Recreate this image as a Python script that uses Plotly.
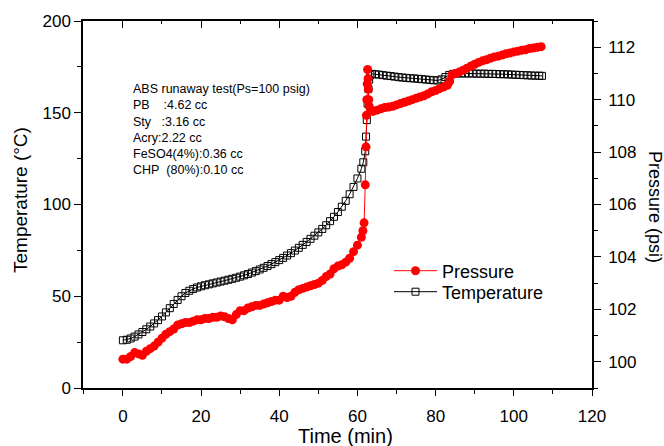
import plotly.graph_objects as go

# ---- Data ----
temp_time = [0, 1, 2, 3, 4, 5, 6, 7, 8, 9, 10, 11, 12, 13, 14, 15, 16, 17, 18, 19,
             20, 21, 22, 23, 24, 25, 26, 27, 28, 29, 30, 31, 32, 33, 34, 35, 36, 37, 38, 39,
             40, 41, 42, 43, 44, 45, 46, 47, 48, 49, 50, 51, 52, 53, 54, 55, 56, 57, 58, 59,
             60, 61, 61.5, 62, 62.2, 62.4, 62.6, 62.8, 63, 63.3, 63.7,
             64.5, 65.5, 66.5, 67.5, 68.5, 69.5, 70.5, 71.5, 72.5, 73.5, 74.5, 75.5, 76.5,
             77.5, 78.5, 79.5, 80.5, 81.5, 82.5, 83.5, 84.5, 85.5, 86.5, 87.5, 88.5, 89.5,
             90.5, 91.5, 92.5, 93.5, 94.5, 95.5, 96.5, 97.5, 98.5, 99.5, 100.5, 101.5, 102.5,
             103.5, 104.5, 105.5, 106.5, 107.2]
temperature = [26, 26.3, 27, 28, 29.2, 30.5, 32, 33.5, 35.2, 37, 39, 41.2, 43.5, 45.8, 48, 50, 51.8, 53, 54, 54.8,
               55.4, 56, 56.5, 57, 57.5, 58, 58.5, 59, 59.5, 60.1, 60.7, 61.4, 62.1, 62.9, 63.7, 64.6, 65.5, 66.5, 67.5, 68.6,
               69.7, 70.9, 72.2, 73.5, 74.9, 76.4, 78.0, 79.6, 81.3, 83.0, 84.8, 86.7, 88.7, 90.9, 93.3, 95.9, 98.8, 102.0, 105.6, 109.6,
               114.2, 119.5, 123, 129, 137, 146, 155, 163, 168, 170.5, 171.2,
               171, 170.8, 170.5, 170.2, 170, 169.7, 169.4, 169.2, 169, 168.8, 168.7, 168.5, 168.3,
               168.1, 167.9, 167.7, 167.6, 168.2, 169.5, 170.6, 171.2, 171.4, 171.4, 171.4, 171.4, 171.4,
               171.3, 171.3, 171.3, 171.2, 171.2, 171.1, 171, 171, 170.9, 170.8, 170.7, 170.6, 170.5,
               170.4, 170.3, 170.2, 170.2, 170.1]

pres_time = [0, 1, 2, 3, 4, 5, 6, 7, 8, 9, 10, 11, 12, 13, 14, 15, 16, 17, 18, 19,
             20, 21, 22, 23, 24, 25, 26, 27, 28, 29, 30, 31, 32, 33, 34, 35, 36, 37, 38, 39,
             40, 41, 42, 43, 44, 45, 46, 47, 48, 49, 50, 51, 52, 53, 54, 55, 56, 57, 58, 59,
             60, 61, 61.4, 61.7, 62.0, 62.2, 62.3, 62.4, 62.5, 62.6, 62.7, 62.8, 62.9, 63.0, 63.5,
             64, 65, 66, 67, 68, 69, 70, 71, 72, 73, 74, 75, 76, 77, 78, 79, 80, 81, 82, 83,
             83.6, 84.2, 85, 86, 87, 88, 89, 90, 91, 92, 93, 94, 95, 96, 97, 98, 99, 100,
             101, 102, 103, 104, 105, 106, 107]
pressure = [100.1, 100.1, 100.2, 100.35, 100.3, 100.25, 100.4, 100.5, 100.6, 100.75, 100.9, 101.05, 101.15, 101.25, 101.4, 101.45, 101.5, 101.5, 101.55, 101.6,
            101.6, 101.65, 101.65, 101.7, 101.7, 101.75, 101.72, 101.65, 101.6, 101.8, 101.95, 101.95, 102.05, 102.1, 102.15, 102.15, 102.2, 102.25, 102.3, 102.35,
            102.35, 102.5, 102.45, 102.5, 102.65, 102.75, 102.8, 102.85, 102.9, 102.95, 103.0, 103.1, 103.25, 103.35, 103.55, 103.65, 103.7, 103.8, 103.95, 104.2,
            104.45, 104.75, 105.0, 105.3, 106.75, 108.2, 109.4, 110.0, 110.6, 111.15, 110.8, 110.4, 110.0, 109.75, 109.6,
            109.55, 109.6, 109.65, 109.7, 109.72, 109.75, 109.8, 109.85, 109.9, 109.95, 110.0, 110.05, 110.1, 110.15, 110.22, 110.3, 110.35, 110.42, 110.48, 110.55,
            110.7, 110.95, 111.0, 111.05, 111.12, 111.2, 111.28, 111.35, 111.42, 111.48, 111.52, 111.58, 111.63, 111.66, 111.7, 111.75, 111.78, 111.82,
            111.85, 111.88, 111.9, 111.95, 111.97, 112.0, 112.02]

info_lines = ["ABS runaway test(Ps=100 psig)",
              "PB\u00a0\u00a0\u00a0\u00a0:4.62 cc",
              "Sty\u00a0\u00a0\u00a0:3.16 cc",
              "Acry:2.22 cc",
              "FeSO4(4%):0.36 cc",
              "CHP\u00a0\u00a0(80%):0.10 cc"]

FONT = "Arial, 'Liberation Sans', sans-serif"
RED = "rgb(255,0,0)"

L, R, T, B = 83, 72, 21, 58
W, H = 664, 446
PW, PH = W - L - R, H - T - B


def px(xp):
    return (xp - L) / PW


def py(yp):
    return (H - B - yp) / PH


fig = go.Figure()
fig.add_trace(go.Scatter(
    x=pres_time, y=pressure, name="Pressure", yaxis="y2", mode="lines+markers",
    line=dict(color=RED, width=1), legend="legend2",
    marker=dict(symbol="circle", size=9, color=RED, line=dict(width=0))))
fig.add_trace(go.Scatter(
    x=temp_time, y=temperature, name="Temperature", mode="lines+markers",
    line=dict(color="black", width=1), legend="legend3",
    marker=dict(symbol="square-open", size=7, color="black", line=dict(width=1))))
# empty helper trace so the top (mirror) axis is drawn
fig.add_trace(go.Scatter(x=[], y=[], xaxis="x2", showlegend=False, hoverinfo="skip"))

axis_common = dict(showgrid=False, zeroline=False, showline=True, linecolor="black",
                   linewidth=1.5, tickcolor="black", tickwidth=1.2,
                   tickfont=dict(family=FONT, size=17, color="black"))

legend_common = dict(xanchor="left", yanchor="middle", bgcolor="rgba(0,0,0,0)",
                     borderwidth=0,
                     font=dict(family=FONT, size=18, color="black"), itemwidth=43)

fig.update_layout(
    width=W, height=H,
    paper_bgcolor="white", plot_bgcolor="white",
    margin=dict(l=L, r=R, t=T, b=B),
    font=dict(family=FONT, color="black"),
    xaxis=dict(range=[-10.2, 120], tick0=0, dtick=20, ticks="outside", ticklen=6,
               minor=dict(dtick=10, tick0=0, ticks="outside", ticklen=4, tickcolor="black", tickwidth=1.2),
               ticklabelstandoff=6, **axis_common),
    xaxis2=dict(range=[-10.2, 120], overlaying="x", side="top", anchor="y",
                tick0=0, dtick=20, ticks="inside", ticklen=7, showticklabels=False,
                minor=dict(dtick=10, tick0=0, ticks="inside", ticklen=3, tickcolor="black", tickwidth=1.2),
                **axis_common),
    yaxis=dict(range=[0, 200], tick0=0, dtick=50, ticks="outside", ticklen=7,
               minor=dict(dtick=25, tick0=0, ticks="outside", ticklen=4, tickcolor="black", tickwidth=1.2),
               ticklabelstandoff=0, **axis_common),
    yaxis2=dict(range=[99, 113], overlaying="y", side="right", anchor="x",
                tick0=100, dtick=2, ticks="outside", ticklen=7,
                minor=dict(dtick=1, tick0=99, ticks="outside", ticklen=4, tickcolor="black", tickwidth=1.2),
                ticklabelstandoff=4, **axis_common),
    legend2=dict(x=px(389), y=py(271), **legend_common),
    legend3=dict(x=px(389), y=py(292), **legend_common),
    showlegend=True,
)

annotations = [
    dict(text="Time (min)", xref="paper", yref="paper", x=px(345), y=py(436),
         xanchor="center", yanchor="middle", showarrow=False,
         font=dict(family=FONT, size=20, color="black")),
    dict(text="Temperature (°C)", xref="paper", yref="paper", x=px(20), y=py(200),
         xanchor="center", yanchor="middle", textangle=-90, showarrow=False,
         font=dict(family=FONT, size=19, color="black")),
    dict(text="Pressure (psi)", xref="paper", yref="paper", x=px(655), y=py(207),
         xanchor="center", yanchor="middle", textangle=90, showarrow=False,
         font=dict(family=FONT, size=18, color="black")),
    dict(text="<br>".join(info_lines), xref="paper", yref="paper", x=px(131), y=py(80),
         xanchor="left", yanchor="top", align="left", showarrow=False,
         font=dict(family=FONT, size=12.5, color="black")),
]
fig.update_layout(annotations=annotations)

fig.write_html("out.html", config={"displayModeBar": False},
               post_script="document.body.style.margin='0';document.body.style.padding='0';")
